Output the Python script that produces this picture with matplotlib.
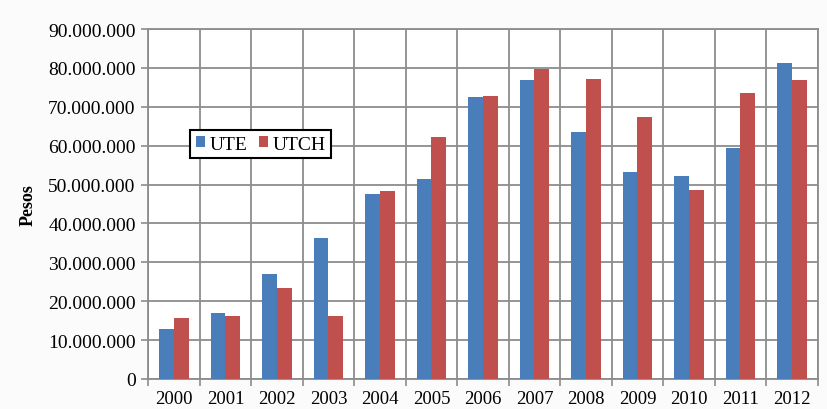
import numpy as np
import matplotlib
matplotlib.use("Agg")
import matplotlib.pyplot as plt
from matplotlib.ticker import FuncFormatter, MultipleLocator

# data (pesos)
years = ["2000", "2001", "2002", "2003", "2004", "2005", "2006",
         "2007", "2008", "2009", "2010", "2011", "2012"]
ute = [12.8, 16.9, 27.0, 36.2, 47.5, 51.5, 72.4,
       76.8, 63.6, 53.2, 52.1, 59.3, 81.2]
utch = [15.8, 16.1, 23.4, 16.3, 48.4, 62.2, 72.9,
        79.6, 77.1, 67.5, 48.6, 73.6, 76.9]
ute = np.array(ute) * 1e6
utch = np.array(utch) * 1e6

BLUE = "#4a7ebb"
RED = "#c0504d"
GRID = "#8c8c8c"

plt.rcParams["font.family"] = ["Liberation Serif", "DejaVu Serif"]

fig = plt.figure(figsize=(8.28, 4.10), dpi=100, facecolor="#fbfbfb")
ax = fig.add_axes([0.179, 0.0732, 0.8086, 0.8536])
ax.set_facecolor("white")

x = np.arange(len(years))
w = 0.285
ax.bar(x - w / 2, ute, w, color=BLUE, label="UTE", zorder=3)
ax.bar(x + w / 2, utch, w, color=RED, label="UTCH", zorder=3)

ax.set_xlim(-0.5, len(years) - 0.5)
ax.set_ylim(0, 90e6)
ax.yaxis.set_major_locator(MultipleLocator(10e6))
ax.yaxis.set_major_formatter(FuncFormatter(lambda v, p: f"{int(round(v)):,}".replace(",", ".")))

ax.set_xticks(x)
ax.set_xticklabels(years)
ax.set_xticks(np.arange(-0.5, len(years)), minor=True)
ax.tick_params(axis="x", which="major", length=0, labelsize=13.5, pad=8)
ax.tick_params(axis="x", which="minor", length=5, color=GRID, width=1.2)
ax.tick_params(axis="y", length=5, color=GRID, width=1.2, labelsize=14, pad=4)

ax.grid(axis="y", which="major", color=GRID, linewidth=1.3, zorder=0)
ax.grid(axis="x", which="minor", color=GRID, linewidth=1.3, zorder=0)
for s in ax.spines.values():
    s.set_color(GRID)
    s.set_linewidth(1.3)

ax.set_ylabel("Pesos", fontsize=13, fontweight="bold", labelpad=8)

leg = ax.legend(loc="upper left", bbox_to_anchor=(0.062, 0.712), ncol=2,
                fontsize=14, frameon=True, fancybox=False, handlelength=0.5,
                handleheight=0.5, handletextpad=0.2, columnspacing=0.6,
                borderpad=0.3, borderaxespad=0)
leg.get_frame().set_edgecolor("black")
leg.get_frame().set_linewidth(1.5)
leg.get_frame().set_facecolor("white")
leg.get_frame().set_alpha(1)

fig.savefig("out.png", dpi=100, facecolor=fig.get_facecolor())
